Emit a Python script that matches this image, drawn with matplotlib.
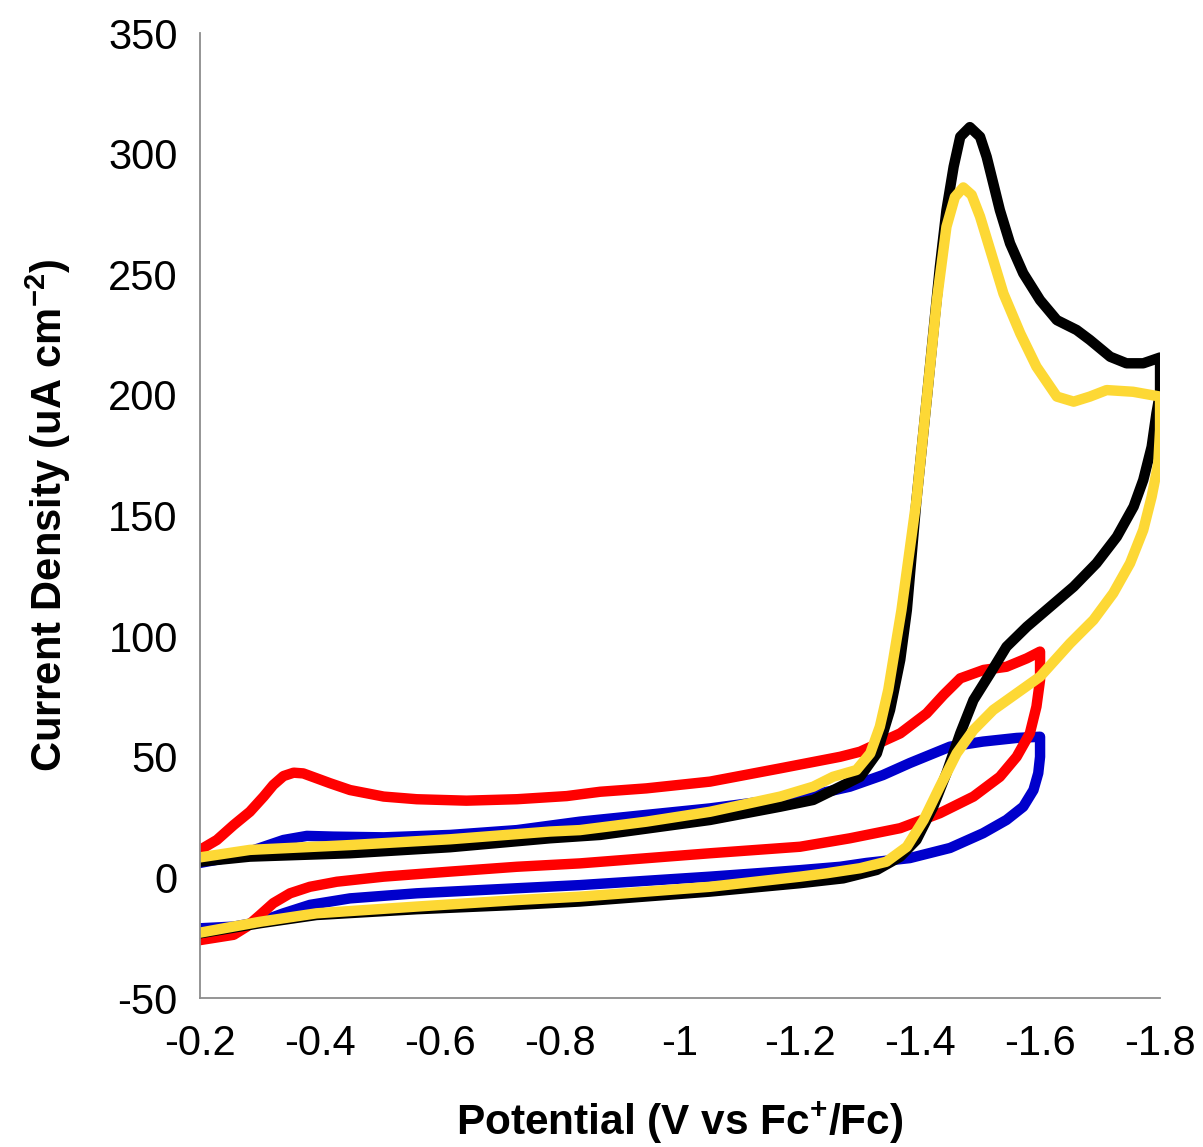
import matplotlib
matplotlib.use("Agg")
import matplotlib.pyplot as plt
from matplotlib.ticker import FixedLocator, FuncFormatter

plt.rcParams['font.family'] = ['Liberation Sans', 'DejaVu Sans']
plt.rcParams['mathtext.fontset'] = 'custom'
plt.rcParams['mathtext.rm'] = 'Liberation Sans:bold'
plt.rcParams['mathtext.bf'] = 'Liberation Sans:bold'
plt.rcParams['axes.unicode_minus'] = False

# potential (V vs Fc+/Fc) and current density (uA cm-2), read around each loop
blue_v = [-0.2, -0.256, -0.3, -0.339, -0.378, -0.422, -0.506, -0.617, -0.728, -0.833, -1.05,
          -1.222, -1.283, -1.338, -1.383, -1.45, -1.505, -1.561, -1.6,
          -1.6, -1.597, -1.589, -1.572, -1.544, -1.505, -1.45, -1.383, -1.311, -1.267, -1.2,
          -1.05, -0.833, -0.728, -0.561, -0.45, -0.383, -0.339, -0.3, -0.256, -0.2]
blue_i = [6, 8.6, 12.2, 15.5, 17.2, 16.9, 16.6, 17.6, 19.6, 23.1, 28.6,
          34.2, 37.6, 42.4, 47.4, 54.2, 56.3, 57.8, 58.3,
          50, 43.2, 36.2, 29.3, 23.8, 18.3, 12.2, 8, 6, 4.4, 3,
          0.3, -3.2, -4.5, -6.6, -8.7, -11.4, -14.9, -18.4, -20.4, -21.1]

red_v = [-0.2, -0.228, -0.256, -0.283, -0.306, -0.322, -0.339, -0.356, -0.372, -0.394, -0.417,
         -0.45, -0.506, -0.561, -0.644, -0.728, -0.811, -0.867, -0.944, -1.05, -1.167, -1.267,
         -1.3, -1.367, -1.411, -1.439, -1.467, -1.506, -1.544, -1.578, -1.6,
         -1.6, -1.594, -1.583, -1.561, -1.533, -1.489, -1.433, -1.367, -1.283, -1.2, -1.05,
         -0.833, -0.728, -0.617, -0.506, -0.428, -0.383, -0.35, -0.322, -0.3, -0.278, -0.256,
         -0.2]
red_i = [11.4, 15.5, 21.7, 27.2, 33.5, 38.3, 42, 43.4, 43.1, 41.1, 39,
         36.2, 33.5, 32.4, 31.8, 32.4, 33.7, 35.5, 36.9, 39.7, 45.2, 50,
         52.1, 59.7, 68, 75.6, 82.5, 86, 87.3, 90.8, 93.6,
         81.8, 70.8, 59.7, 50, 41.7, 33.5, 26.6, 20.4, 16.2, 12.7, 10,
         5.8, 4.4, 2.4, 0.3, -1.8, -3.9, -6.6, -10.7, -15.6, -20.4, -23.8,
         -26]

black_v = [-0.2, -0.283, -0.45, -0.617, -0.783, -0.867, -1.05, -1.167, -1.222, -1.267, -1.3,
           -1.328, -1.35, -1.367, -1.378, -1.394, -1.411, -1.422, -1.433, -1.444, -1.456,
           -1.467, -1.483, -1.5, -1.511, -1.522, -1.533, -1.55, -1.572, -1.6, -1.628, -1.661,
           -1.683, -1.717, -1.744, -1.772, -1.8,
           -1.8, -1.794, -1.786, -1.772, -1.756, -1.728, -1.694, -1.656, -1.617, -1.578,
           -1.544, -1.517, -1.489, -1.467, -1.444, -1.422, -1.394, -1.367, -1.328, -1.272,
           -1.2, -1.05, -0.833, -0.728, -0.561, -0.394, -0.3, -0.2]
black_i = [6.5, 8.6, 10, 12.5, 16.2, 17.6, 23.8, 29.3, 32.1, 37.6, 41.7,
           51.4, 69.4, 90.2, 110.8, 156.4, 197.9, 225.5, 253, 276.6, 294.6,
           307, 311, 307, 298.7, 287.7, 276.6, 262.8, 250.4, 239.3, 231, 226.9,
           222.8, 215.8, 213.1, 213.1, 215.5,
           200.8, 192.4, 178.5, 164.7, 153.7, 141.2, 130.2, 120.5, 112.2, 103.9,
           95.6, 84.6, 73.5, 59.7, 43.2, 29.3, 15.5, 8.6, 3.1, -0.4,
           -2.4, -5.9, -10, -11.4, -13.2, -15.6, -19, -23.2]

yellow_v = [-0.2, -0.283, -0.45, -0.617, -0.783, -0.833, -0.944, -1.05, -1.167, -1.222, -1.255,
            -1.294, -1.317, -1.333, -1.347, -1.358, -1.369, -1.394, -1.411, -1.428, -1.444,
            -1.458, -1.472, -1.486, -1.5, -1.517, -1.539, -1.567, -1.594, -1.628, -1.656,
            -1.683, -1.711, -1.755, -1.8,
            -1.8, -1.797, -1.786, -1.772, -1.75, -1.722, -1.689, -1.65, -1.6, -1.561,
            -1.522, -1.489, -1.461, -1.433, -1.406, -1.378, -1.344, -1.3, -1.244, -1.2,
            -1.05, -0.833, -0.728, -0.561, -0.394, -0.3, -0.2]
yellow_i = [8.3, 11.4, 13.4, 15.8, 19, 19.6, 23.1, 27.2, 33.5, 37.6, 41.7,
            44.5, 51.4, 62.5, 77.7, 94.3, 110.8, 156.4, 198, 239.3, 269.7,
            282, 286, 282.9, 273.9, 260, 242, 225.5, 211.7, 199.3, 197.2,
            199.3, 202, 201.3, 199.3,
            185.5, 171.6, 157.8, 144, 130.2, 117.8, 106.7, 97, 83.2, 76.3,
            69.4, 61.1, 51.4, 37.6, 23.8, 12.7, 6.5, 3.8, 1.7, 0.3,
            -3.9, -8, -9.4, -12.1, -14.9, -18.4, -22.9]

x_ticks = [-0.2, -0.4, -0.6, -0.8, -1.0, -1.2, -1.4, -1.6, -1.8]
y_ticks = [-50, 0, 50, 100, 150, 200, 250, 300, 350]

fig = plt.figure(figsize=(12.03, 11.47), dpi=100)
ax = fig.add_axes([0.1663, 0.1299, 0.798, 0.8413])

lw = 7.5
ax.plot(blue_v, blue_i, color='#0000CC', lw=lw)
ax.plot(red_v, red_i, color='#FF0000', lw=lw)
ax.plot(black_v, black_i, color='#000000', lw=lw)
ax.plot(yellow_v, yellow_i, color='#FDD835', lw=lw)

ax.set_xlim(-0.2, -1.8)
ax.set_ylim(-50, 350)
ax.xaxis.set_major_locator(FixedLocator(x_ticks))
ax.yaxis.set_major_locator(FixedLocator(y_ticks))
ax.xaxis.set_major_formatter(FuncFormatter(lambda v, p: '%g' % v))
ax.yaxis.set_major_formatter(FuncFormatter(lambda v, p: '%g' % v))
ax.tick_params(axis='both', length=0, labelsize=30)
ax.tick_params(axis='x', pad=19)
ax.tick_params(axis='y', pad=16)

for s in ['top', 'right']:
    ax.spines[s].set_visible(False)
for s in ['left', 'bottom']:
    ax.spines[s].set_color('#8c8c8c')
    ax.spines[s].set_linewidth(1.3)

ax.set_xlabel(r'Potential (V vs Fc$^{+}$/Fc)', fontsize=30.5, fontweight='bold', labelpad=25)
ax.set_ylabel(r'Current Density (uA cm$^{-2}$)', fontsize=30, fontweight='bold', labelpad=25)

fig.savefig('out.png', dpi=100, facecolor='white')
